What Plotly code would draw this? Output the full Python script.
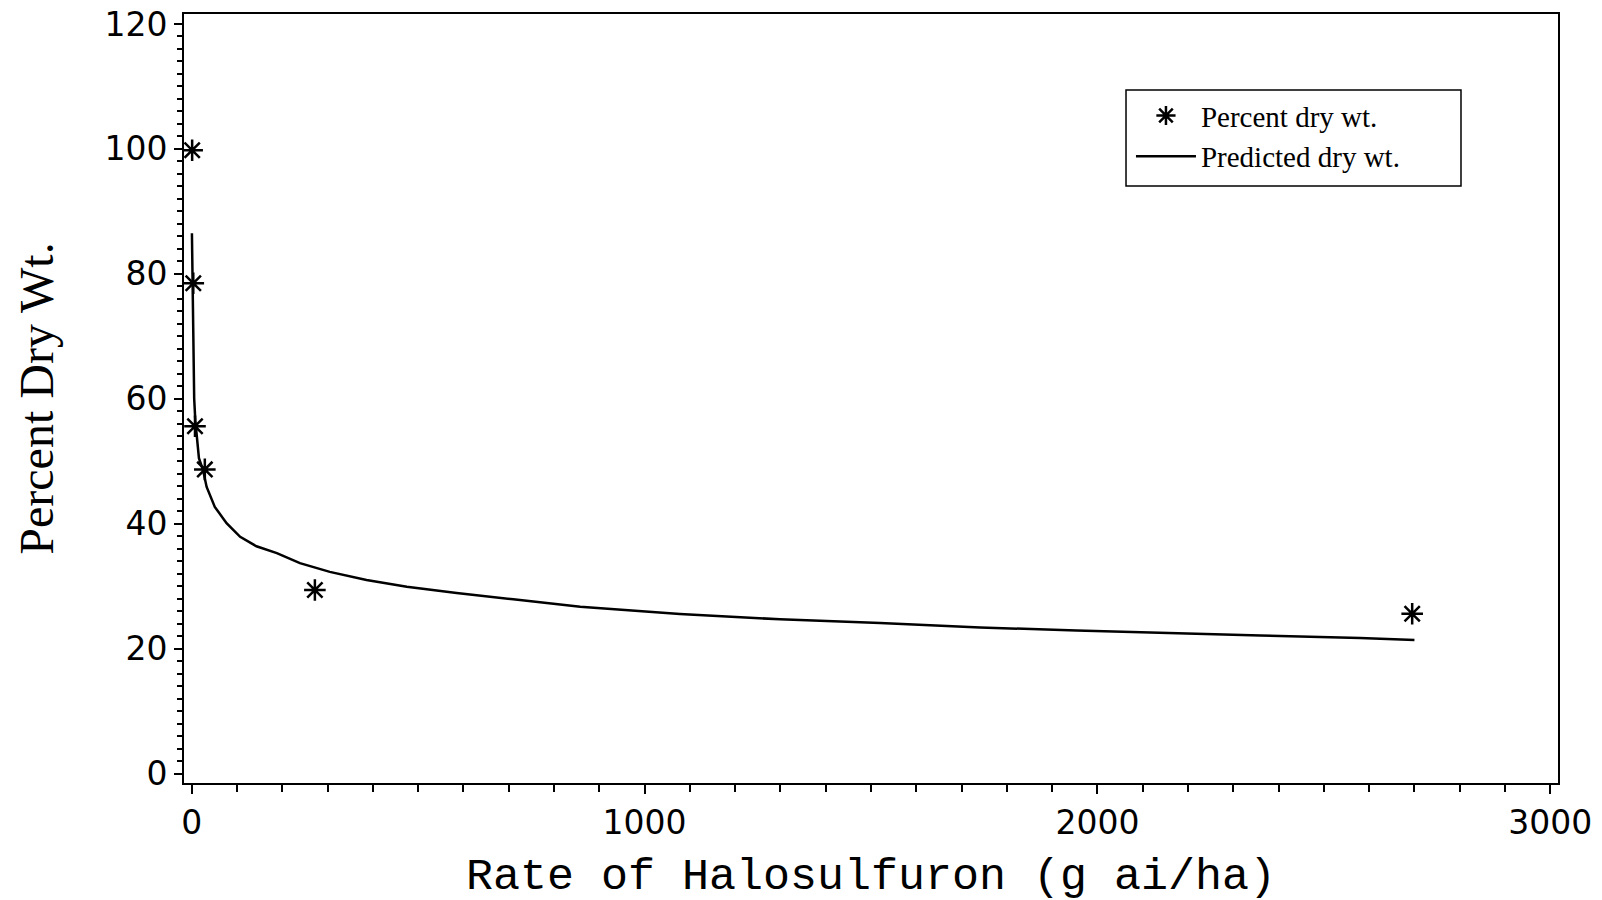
import plotly.graph_objects as go

obs_rate = [1, 3.5, 7.3, 29, 272, 2695]
obs_pct = [99.8, 78.5, 55.6, 48.7, 29.4, 25.6]

# Predicted curve
pred_rate = [0.5, 2, 3.5, 5.5, 8, 11, 16, 25, 33, 51, 77, 107, 143, 188, 239, 305,
             386, 475, 585, 710, 858, 1078, 1299, 1520, 1741, 1954, 2139, 2360, 2580, 2700]
pred_pct = [86.5, 76, 68, 60, 56.5, 54, 50.5, 48.6, 45.9, 42.7, 40.1, 37.9, 36.4, 35.3, 33.7, 32.3,
            31.0, 29.9, 28.9, 27.9, 26.7, 25.55, 24.7, 24.1, 23.4, 22.9, 22.5, 22.1, 21.7, 21.4]

y_ticks = [0, 20, 40, 60, 80, 100, 120]
x_ticks = [0, 1000, 2000, 3000]

fig = go.Figure()
fig.add_trace(go.Scatter(
    x=obs_rate, y=obs_pct, mode="markers", name="Percent dry wt.",
    marker=dict(symbol="asterisk-open", size=18, color="black",
                line=dict(color="black", width=2.5)),
))
fig.add_trace(go.Scatter(
    x=pred_rate, y=pred_pct, mode="lines", name="Predicted dry wt.",
    line=dict(color="black", width=2.5),
))

tickfont = dict(family="DejaVu Sans", size=33, color="black")

fig.update_layout(
    width=1602, height=903,
    paper_bgcolor="white", plot_bgcolor="white",
    margin=dict(l=184, r=44, t=14, b=120, autoexpand=False),
    showlegend=True,
    legend=dict(
        x=0.6892, y=0.901, xanchor="left", yanchor="top",
        borderwidth=0, bgcolor="rgba(0,0,0,0)",
        font=dict(family="Liberation Serif", size=29, color="black"),
        itemwidth=60, tracegroupgap=0,
    ),
    shapes=[dict(type="rect", xref="paper", yref="paper",
                 x0=0.6856, x1=0.9294, y0=0.7763, y1=0.9012,
                 line=dict(color="black", width=1.5), fillcolor="rgba(0,0,0,0)")],
    xaxis=dict(
        range=[-17, 3017], tickvals=x_ticks, ticktext=[str(v) for v in x_ticks],
        showgrid=False, zeroline=False,
        showline=True, linecolor="black", linewidth=2, mirror=True,
        ticks="outside", ticklen=9, tickwidth=2, tickcolor="black",
        tickfont=tickfont, ticklabeloverflow="allow",
        minor=dict(dtick=100, tick0=0, ticks="outside", ticklen=7, tickwidth=2,
                   tickcolor="black", showgrid=False),
        title=dict(text="Rate of Halosulfuron (g ai/ha)",
                   font=dict(family="Liberation Mono", size=45, color="black"),
                   standoff=33),
    ),
    yaxis=dict(
        range=[-1.5, 121.6], tickvals=y_ticks, ticktext=[str(v) for v in y_ticks],
        showgrid=False, zeroline=False,
        showline=True, linecolor="black", linewidth=2, mirror=True,
        ticks="outside", ticklen=8, tickwidth=2, tickcolor="black",
        tickfont=tickfont, ticklabeloverflow="allow",
        minor=dict(dtick=2, tick0=0, ticks="outside", ticklen=5, tickwidth=2,
                   tickcolor="black", showgrid=False),
        title=dict(text="Percent Dry Wt.",
                   font=dict(family="Liberation Serif", size=48, color="black"),
                   standoff=36),
    ),
)

fig.write_html(
    "out.html",
    config={"displayModeBar": False},
    post_script="document.body.style.margin='0';document.body.style.overflow='hidden';",
)
